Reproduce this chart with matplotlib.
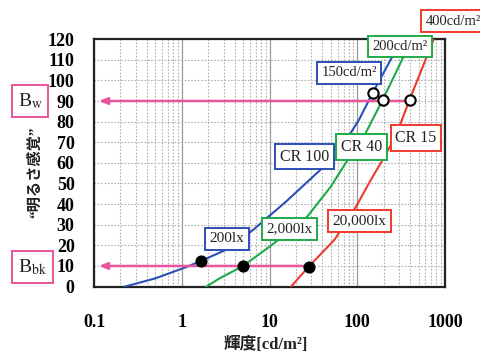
import numpy as np
import matplotlib.pyplot as plt
from matplotlib.ticker import FixedLocator, NullFormatter

plt.rcParams['mathtext.fontset'] = 'stix'

# --- data ---
blue_x = [0.225, 0.5, 1.1, 1.65, 3.5, 6.5, 15.5, 38, 55, 80, 105, 150, 230, 320]
blue_y = [0, 4, 9.3, 12.4, 18.6, 27.5, 41.3, 56.6, 66.4, 73, 81, 94, 108.5, 120]

green_x = [1.9, 2.7, 5, 10.5, 18, 27, 50, 74, 115, 195, 316, 420]
green_y = [0, 4, 10, 20, 28, 34, 48.5, 60, 71.5, 90.6, 109, 120]

red_x = [17.6, 28, 55, 97, 143, 195, 275, 395, 600, 745]
red_y = [0, 9.7, 22.7, 38.8, 51.8, 61.5, 73, 90.6, 110, 120]

white_x = [150, 195, 395]        # open circles (B_w)
white_y = [94, 90.6, 90.6]
dark_x = [1.65, 5, 28]           # filled dots (B_bk)
dark_y = [12.4, 10, 9.7]

b_w, b_bk = 90, 10

yticks = list(range(0, 130, 10))
xticks = [0.1, 1, 10, 100, 1000]

blue, green, red = '#2a4fb8', '#1faa48', '#f0392e'
pink = '#e8559c'
serif = ['Liberation Serif', 'Noto Sans CJK JP']

fig = plt.figure(figsize=(4.8, 3.56), dpi=100)
ax = fig.add_axes([0.196, 0.195, 0.731, 0.695])

ax.set_xscale('log')
ax.set_xlim(0.1, 1000)
ax.set_ylim(0, 120)

ax.xaxis.set_major_locator(FixedLocator(xticks))
ax.xaxis.set_minor_locator(FixedLocator([m * 10.0 ** e for e in range(-1, 3) for m in range(2, 10)]))
ax.xaxis.set_minor_formatter(NullFormatter())
ax.set_xticklabels(['0.1', '1', '10', '100', '1000'])
ax.set_yticks(yticks)
ax.grid(True, which='major', axis='x', color='#9a9a9a', lw=0.9)
ax.grid(True, which='minor', axis='x', color='#b0b0b0', lw=0.8, ls=(0, (1.5, 1.5)))
ax.grid(True, which='major', axis='y', color='#b0b0b0', lw=0.8, ls=(0, (1.5, 1.5)))
ax.tick_params(which='both', length=0)
ax.tick_params(axis='y', pad=14)
ax.tick_params(axis='x', pad=20)
for lab in ax.get_xticklabels() + ax.get_yticklabels():
    lab.set_family('Liberation Serif')
    lab.set_weight('bold')
    lab.set_fontsize(13)
for s in ax.spines.values():
    s.set_linewidth(1.6)
    s.set_color('#222222')

# curves
ax.plot(blue_x, blue_y, color=blue, lw=1.5, zorder=3)
ax.plot(green_x, green_y, color=green, lw=1.5, zorder=3)
ax.plot(red_x, red_y, color=red, lw=1.5, zorder=3)

# pink reference lines with arrows
ax.annotate('', xy=(0.105, b_w), xytext=(white_x[2], b_w),
            arrowprops=dict(arrowstyle='-|>,head_length=0.5,head_width=0.2', color=pink, lw=1.8), zorder=4)
ax.annotate('', xy=(0.105, b_bk), xytext=(dark_x[2], b_bk),
            arrowprops=dict(arrowstyle='-|>,head_length=0.5,head_width=0.2', color=pink, lw=1.8), zorder=4)

ax.scatter(white_x, white_y, s=55, facecolor='white', edgecolor='black', lw=1.5, zorder=6)
ax.scatter(dark_x, dark_y, s=60, color='black', zorder=6)

def box(x, y, txt, col, size=10, ha='center'):
    ax.text(x, y, txt, ha=ha, va='center', fontsize=size, family=serif, color='#222222', zorder=7,
            clip_on=False,
            bbox=dict(boxstyle='square,pad=0.3', fc='white', ec=col, lw=1.4))

box(81, 103.7, '150cd/m²', blue, 10.5)
box(309, 116.4, '200cd/m²', green, 10.5)
box(600, 128.7, '400cd/m²', red, 10.5, ha='left')
box(25, 63, 'CR 100', blue, 11.5)
box(111, 67.8, 'CR 40', green, 11.5)
box(467, 72.2, 'CR 15', red, 11.5)
box(3.24, 23.2, '200lx', blue, 11)
box(16.9, 28, '2,000lx', green, 11)
box(105, 31.9, '20,000lx', red, 11)

# B_w / B_bk tags at the left
fig.text(0.0625, 1 - 101 / 356, r'B$_{\mathrm{w}}$', ha='center', va='center', fontsize=14,
         family='Liberation Serif', color='#222222',
         bbox=dict(boxstyle='square,pad=0.3', fc='white', ec=pink, lw=1.4))
fig.text(0.067, 1 - 267 / 356, r'B$_{\mathrm{bk}}$', ha='center', va='center', fontsize=14,
         family='Liberation Serif', color='#222222',
         bbox=dict(boxstyle='square,pad=0.3', fc='white', ec=pink, lw=1.4))

fig.text(0.072, 1 - 172 / 356, '“明るさ感覚”', rotation=90, ha='center', va='center',
         fontsize=11, family=serif, weight='bold', color='#222222')
fig.text(266 / 480, 1 - 345 / 356, '輝度[cd/m²]', ha='center', va='center',
         fontsize=12, family=serif, weight='bold', color='#222222')

fig.savefig('out.png', dpi=100)
